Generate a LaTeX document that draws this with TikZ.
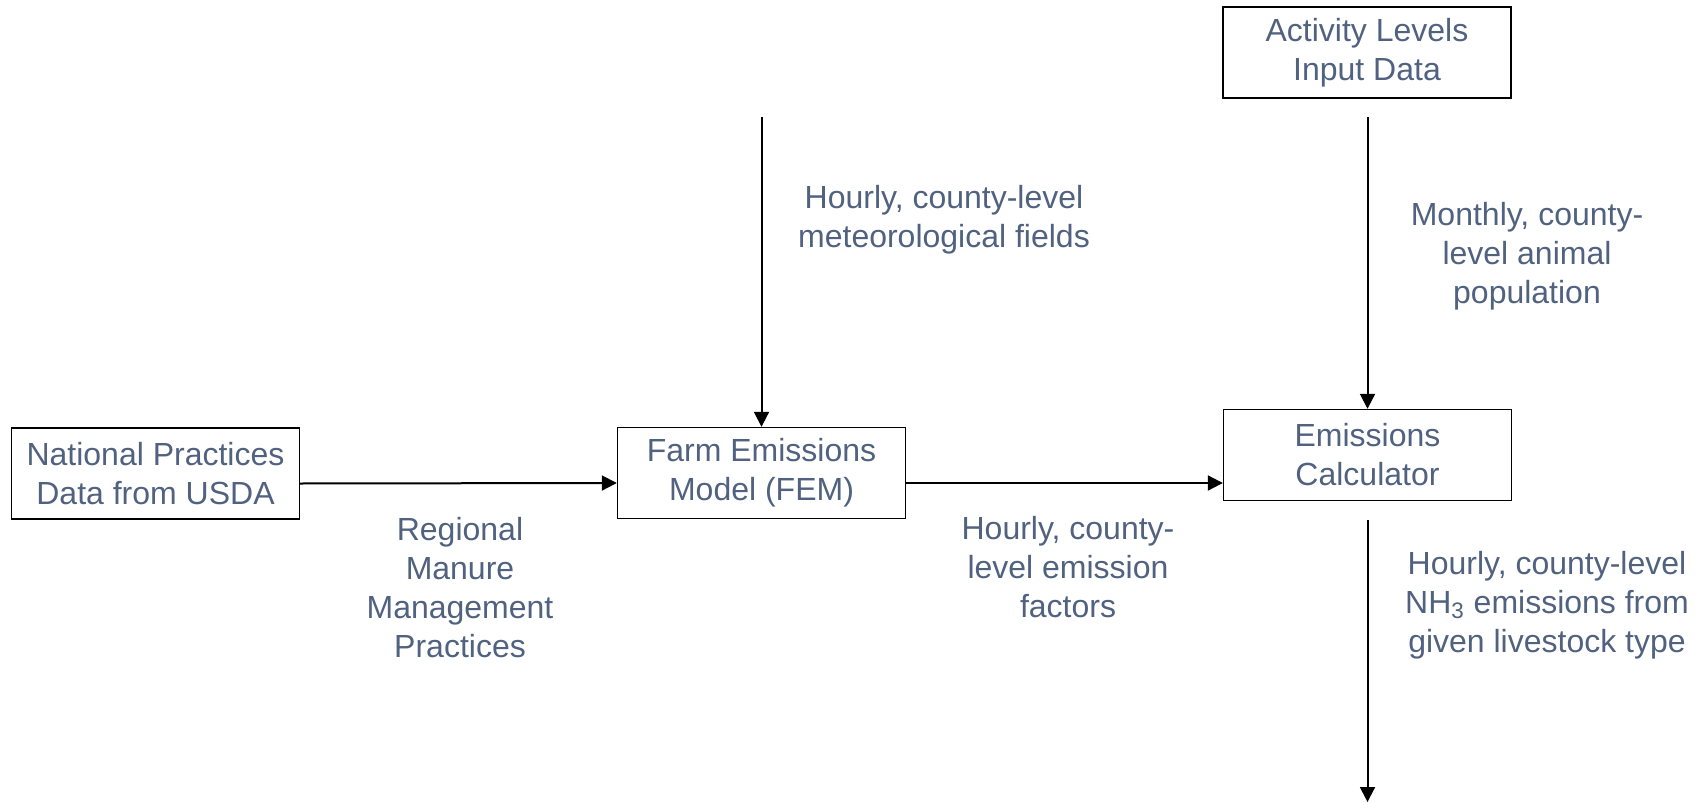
\documentclass[tikz,border=0pt]{standalone}
\usepackage{fontspec}
\setmainfont{Liberation Sans}
\usepackage{tikz}
\usetikzlibrary{arrows.meta}
\definecolor{slate}{RGB}{80,98,127}
\tikzset{
	node_box/.style = {
		rectangle,
		draw=black,
		line width=0.7pt,
		align=center,
		text=slate,
		font=\fontsize{16}{19.5}\selectfont,
		minimum width=144pt,
		minimum height=45.5pt,
		inner sep=0pt
	},
	node_label/.style = {
		align=center,
		text=slate,
		font=\fontsize{16}{19.5}\selectfont,
		inner sep=0pt
	},
}

\begin{document}
\begin{tikzpicture}[x=0.5pt,y=-0.5pt,-{Triangle[length=7.5pt,width=7.5pt]},line width=1pt]
\useasboundingbox (0,0) rectangle (1700,802);
% boxes
\node [node_box] (nat) at (155.5,473.5) {National Practices\\Data from USDA};
\node [node_box] (fem) at (761.5,473) {Farm Emissions\\Model (FEM)};
\node [node_box] (calc) at (1367.5,455) {Emissions\\Calculator};
\node [node_box] (act) at (1367,52.5) {Activity Levels\\Input Data};
% free ends
\coordinate (met) at (761.5,117);
\coordinate (pop) at (1367.5,117);
\coordinate (out) at (1367.5,520);
\coordinate (outend) at (1367.5,802);
% connectors
\draw ([yshift=-5pt]nat.east) -- ([yshift=-5pt]fem.west);
\draw ([yshift=-5pt]fem.east) -- ([yshift=-14pt]calc.west);
\draw (met) -- (fem.north);
\draw (pop) -- (calc.north);
\draw (out) -- (outend);
% labels
\node [node_label] (l_met) at (944,220) {Hourly, county-level\\meteorological fields};
\node [node_label] (l_pop) at (1527,256) {Monthly, county-\\level animal\\population};
\node [node_label] (l_man) at (460,588) {Regional\\Manure\\Management\\Practices};
\node [node_label] (l_fac) at (1068,567) {Hourly, county-\\level emission\\factors};
\node [node_label] (l_nh3) at (1547,605) {Hourly, county-level\\NH\textsubscript{3} emissions from\\given livestock type};
\end{tikzpicture}
\end{document}
